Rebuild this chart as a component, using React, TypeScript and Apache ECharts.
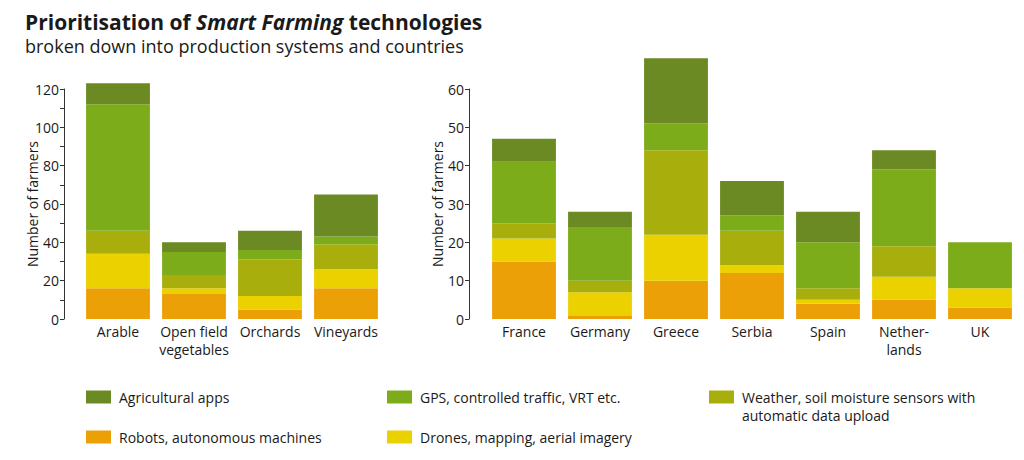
import React, { useEffect, useRef } from "react";
import * as echarts from "echarts";

const systems = ["Arable", "Open field\nvegetables", "Orchards", "Vineyards"];
const countries = ["France", "Germany", "Greece", "Serbia", "Spain", "Nether-\nlands", "UK"];

const seriesNames = [
  "Robots, autonomous machines",
  "Drones, mapping, aerial imagery",
  "Weather, soil moisture sensors with automatic data upload",
  "GPS, controlled traffic, VRT etc.",
  "Agricultural apps",
];
const colors = ["#eba008", "#ecd100", "#a8af0c", "#7cac1a", "#6b8a23"];

// production systems (stack order bottom -> top)
const sysRobots = [16, 13, 5, 16];
const sysDrones = [18, 3, 7, 10];
const sysWeather = [12, 7, 19, 13];
const sysGps = [66, 12, 5, 4];
const sysApps = [11, 5, 10, 22];

// countries
const ctyRobots = [15, 1, 10, 12, 4, 5, 3];
const ctyDrones = [6, 6, 12, 2, 1, 6, 5];
const ctyWeather = [4, 3, 22, 9, 3, 8, 0];
const ctyGps = [16, 14, 7, 4, 12, 20, 12];
const ctyApps = [6, 4, 17, 9, 8, 5, 0];

const sysTicks = { min: 0, max: 120, interval: 20 };
const ctyTicks = { min: 0, max: 60, interval: 10 };

const FONT = "'Open Sans', 'Noto Sans', sans-serif";
const TXT = "#1a1a1a";

export default function App() {
  const ref = useRef<HTMLDivElement>(null);
  useEffect(() => {
    if (!ref.current) return;
    const chart = echarts.init(ref.current, undefined, { renderer: "svg" });
    const sysData = [sysRobots, sysDrones, sysWeather, sysGps, sysApps];
    const ctyData = [ctyRobots, ctyDrones, ctyWeather, ctyGps, ctyApps];

    const series: any[] = [];
    seriesNames.forEach((n, i) => {
      series.push({
        type: "bar",
        name: n,
        stack: "sys",
        xAxisIndex: 0,
        yAxisIndex: 0,
        data: sysData[i],
        clip: false,
        barCategoryGap: "16%",
        itemStyle: { color: colors[i] },
      });
    });
    seriesNames.forEach((n, i) => {
      series.push({
        type: "bar",
        name: n,
        stack: "cty",
        xAxisIndex: 1,
        yAxisIndex: 1,
        data: ctyData[i],
        clip: false,
        barCategoryGap: "16%",
        itemStyle: { color: colors[i] },
      });
    });

    const yAxisCommon = {
      type: "value",
      name: "Number of farmers",
      nameLocation: "middle",
      nameRotate: 90,
      nameGap: 25,
      nameMoveOverlap: false,
      nameTextStyle: { fontFamily: FONT, fontSize: 14, color: TXT },
      axisLine: { show: true, lineStyle: { color: "#333", width: 1 } },
      axisTick: { show: true, length: 4, lineStyle: { color: "#333" } },
      axisLabel: { fontFamily: FONT, fontSize: 14, color: TXT, margin: 5 },
      splitLine: { show: false },
    };
    const xAxisCommon = {
      type: "category",
      axisLine: { show: false },
      axisTick: { show: false },
      axisLabel: { fontFamily: FONT, fontSize: 14, color: TXT, margin: 3, lineHeight: 18, interval: 0 },
    };

    const legendCommon = {
      orient: "vertical",
      icon: "rect",
      itemWidth: 25,
      itemHeight: 13,
      itemGap: 22,
      selectedMode: false,
      textStyle: { fontFamily: FONT, fontSize: 14, color: TXT, lineHeight: 18, padding: [0, 0, 0, 3] },
    };

    chart.setOption({
      animation: false,
      title: {
        left: 25,
        top: 11,
        padding: 0,
        itemGap: 5,
        text: "{b|Prioritisation of }{i|Smart Farming}{b| technologies}",
        textStyle: {
          rich: {
            b: { fontFamily: FONT, fontSize: 21, fontWeight: "bold", color: TXT },
            i: { fontFamily: FONT, fontSize: 21, fontWeight: "bold", fontStyle: "italic", color: TXT },
          },
        },
        subtext: "broken down into production systems and countries",
        subtextStyle: { fontFamily: FONT, fontSize: 18, color: TXT },
      },
      legend: [
        { ...legendCommon, left: 81, top: 383, data: [seriesNames[4], seriesNames[0]] },
        { ...legendCommon, left: 382, top: 383, data: [seriesNames[3], seriesNames[1]] },
        {
          ...legendCommon,
          left: 704,
          top: 365,
          data: [seriesNames[2]],
          formatter: () => "\nWeather, soil moisture sensors with\nautomatic data upload",
        },
      ],
      grid: [
        { left: 80, width: 304, top: 89, height: 230 },
        { left: 486, width: 532, top: 89, height: 230 },
      ],
      xAxis: [
        { ...xAxisCommon, gridIndex: 0, data: systems },
        { ...xAxisCommon, gridIndex: 1, data: countries },
      ],
      yAxis: [
        {
          ...yAxisCommon,
          gridIndex: 0,
          ...sysTicks,
          offset: 16,
          minorTick: { show: true, splitNumber: 2, length: 4, lineStyle: { color: "#333" } },
        },
        { ...yAxisCommon, gridIndex: 1, ...ctyTicks, offset: 17 },
      ],
      series,
    });
    return () => chart.dispose();
  }, []);
  return (
    <div
      ref={ref}
      style={{ position: "absolute", left: 0, top: 0, width: 1024, height: 460, background: "#fff" }}
    />
  );
}
